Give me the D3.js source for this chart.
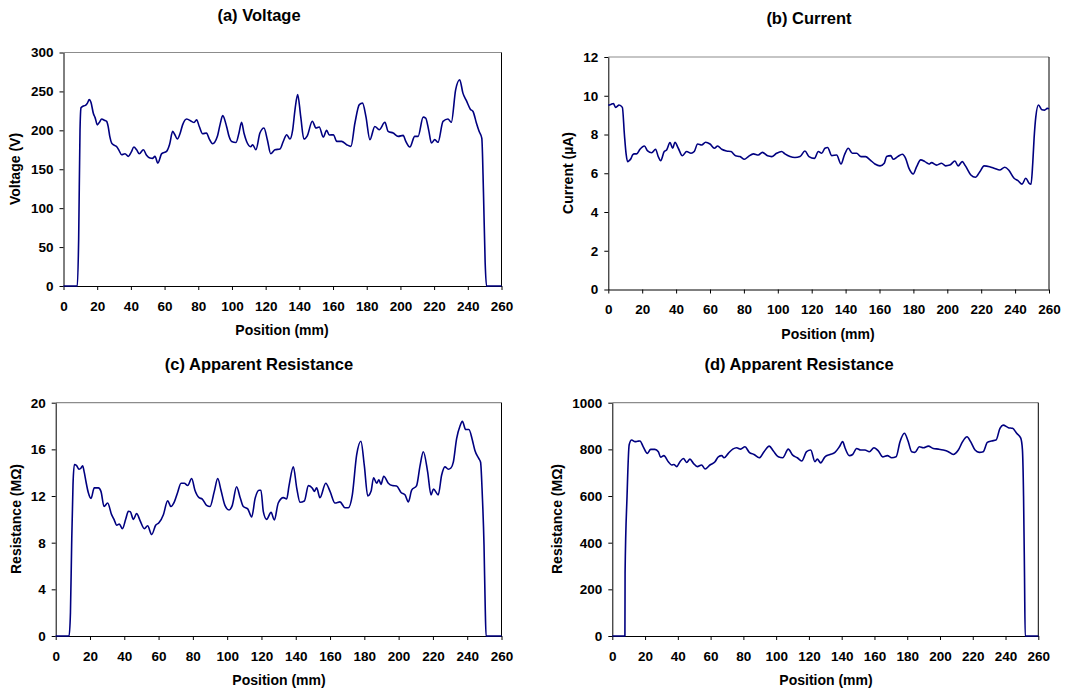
<!DOCTYPE html>
<html>
<head>
<meta charset="utf-8">
<script src="https://cdn.jsdelivr.net/npm/d3@7"></script>
<style>
  body { margin: 0; background: #fff; }
  svg { font-family: "Liberation Sans", Arial, sans-serif; font-weight: bold; }
  .tick text { font-size: 13.5px; fill: #000; }
  .domain, .tick line { stroke: #000; }
</style>
</head>
<body>
<script>
// position (mm) vs value
var voltage = [[0,0],[8.2,0],[9,60],[9.8,200],[10.4,229],[11.5,231],[13,232],[14.2,235],[15.3,239.5],[16.3,236],[17.7,222],[18.8,216],[20.1,207],[21.2,210],[22.7,214.6],[24.2,213],[25.6,211.5],[26.5,205],[27.5,192],[28.6,183.7],[30,181],[31.6,179],[33,174],[34.5,168.7],[36.5,170],[38.5,166.5],[40.2,172],[41.8,178.5],[43.4,175],[45,170],[47.4,175],[49.3,168],[51.3,164.4],[52.8,164],[54.3,166.5],[56,158],[58.3,170],[61.2,173],[63,182],[64.8,198.7],[66.2,194],[67.6,188.8],[69.2,196],[70.7,207],[73.1,214.6],[76,211.5],[77.5,210],[79,213.6],[80.6,205],[82.6,195.7],[84.9,196.5],[86.5,189],[88.5,182.8],[91.3,192],[93,208],[94.5,218.9],[96.8,205],[98.3,192],[99.8,185.7],[102.4,184.4],[104.2,197],[105.7,210.3],[107.2,196],[108.7,185.7],[111.1,179],[112.3,181.4],[114.2,175],[116.6,196.5],[119,203],[121,188],[123,170],[125.5,175],[128.5,176],[130.5,186],[132.5,194.4],[134.4,188.8],[136,200],[137.5,228],[139,245.9],[140.8,218],[142.7,188.8],[144.7,193],[147.7,211.6],[149.9,203],[151.8,204.3],[154.2,191.4],[156.2,200],[157.8,194],[160.2,194.4],[162.2,185.8],[165.1,185.8],[168.1,181.5],[170.6,179.4],[173,209.4],[175.6,233],[177.5,235],[179.5,218],[181.9,188],[184.8,205],[187.4,200.8],[190.8,210.3],[192.7,198.7],[195.7,196.5],[198.7,192.3],[201.6,193.5],[203.2,185.8],[205.6,178.5],[208.5,192.3],[210.5,192.3],[213.5,217],[215,215.8],[216.8,200],[218.4,183.7],[220.4,188],[222.3,184.6],[225.3,211.6],[228.2,214.6],[230.2,210.3],[232.8,252.3],[235.2,265],[237.1,247.8],[239.1,238.4],[241.5,227.2],[243.1,224.2],[245.1,209.4],[246.7,198.7],[248.3,190],[249.3,120],[250.3,30],[251.1,0],[260,0]];

var current = [[0,9.5],[0.4,9.52],[1.5,9.55],[3,9.6],[4.3,9.4],[5.2,9.45],[6.3,9.52],[8.3,9.4],[9.5,8.0],[10.5,7.0],[11.4,6.6],[12.3,6.65],[13.4,6.76],[14.4,6.95],[15.4,7.0],[16.7,7.0],[18.7,7.24],[20,7.35],[21.3,7.41],[23.2,7.15],[25.6,7.06],[27.9,7.24],[29.5,6.85],[30.9,6.65],[33,7.12],[34.4,7.2],[36.4,7.58],[38,7.29],[39.3,7.6],[41.3,7.29],[43.7,6.9],[46.2,7.12],[48.8,7.03],[50.7,7.12],[52.7,7.51],[55.1,7.46],[57.4,7.6],[60,7.51],[62.6,7.29],[64.5,7.41],[66.9,7.24],[69.8,7.15],[72.4,7.12],[75.1,6.9],[77.7,6.86],[80.3,6.72],[82.6,6.86],[85.6,7.0],[88.5,6.94],[90.9,7.08],[94,6.9],[96.4,6.86],[99.3,7.03],[102.3,7.12],[104.2,7.0],[107.2,6.86],[110.1,6.81],[113.1,6.86],[116,7.15],[118.4,6.86],[121.6,6.77],[123.9,7.12],[125.9,7.03],[127.8,7.29],[129.4,7.33],[131.8,6.91],[134.7,6.94],[137.3,6.48],[139.3,6.94],[141.6,7.29],[144,7.03],[146.5,7.03],[149.1,6.86],[151.8,6.86],[154.4,6.69],[157.3,6.48],[160.3,6.38],[162.8,6.52],[164.2,6.86],[166.6,6.91],[168.1,6.72],[170.7,6.86],[173.5,6.98],[175.4,6.77],[177.4,6.25],[179.9,5.96],[181.9,6.34],[184.3,6.69],[186.8,6.6],[189.2,6.48],[190.7,6.55],[193.7,6.42],[196.6,6.52],[199,6.38],[201.5,6.42],[204.5,6.63],[206.4,6.38],[208.8,6.6],[210.7,6.38],[213.9,5.91],[216.6,5.79],[219.2,6.08],[221.7,6.38],[225,6.34],[228,6.25],[230.9,6.17],[233.9,6.31],[236.2,6.17],[239.4,5.74],[241.7,5.62],[244.1,5.44],[246.3,5.74],[248.3,5.48],[249.4,5.44],[250.4,6.5],[251.2,7.8],[252.2,8.9],[253.8,9.52],[255.8,9.28],[257.4,9.26],[259,9.35],[260,9.33]];

var resistanceC = [[0,0],[7.8,0],[8.6,2],[9.3,7.8],[10.1,13],[10.9,14.7],[12.2,14.6],[13.6,14.3],[14.8,14.4],[15.7,14.6],[16.7,14],[17.7,13.2],[19,12.3],[20.6,11.8],[22.5,12.7],[24.9,12.7],[26.4,12.4],[28.2,11.1],[30.3,11.4],[32.6,10.4],[34,10],[35.6,9.5],[37.1,9.6],[38.9,9.2],[40.8,10],[42.4,10.7],[43.5,10.66],[45.3,10.0],[47.2,10.5],[49.2,9.9],[51.7,9.2],[53.6,9.45],[56,8.7],[58.3,9.5],[60.2,9.7],[62.8,10.4],[65.3,11.6],[67.2,11.1],[69.2,11.5],[71.1,12.3],[73.1,13.1],[75,13.1],[77,12.9],[79.3,13.5],[81.2,12.5],[83.6,11.86],[85.5,11.74],[88,11.2],[90,11.1],[92.5,12.4],[94.5,13.5],[96.4,12.5],[98.7,11.2],[101.1,10.8],[103,11.2],[105.5,12.8],[107.5,11.9],[109.4,11.1],[112,10.9],[114.3,10.2],[116.3,11.8],[118.6,12.5],[119.7,12.5],[121.1,10.66],[123,10.0],[125.6,10.6],[127.5,9.95],[129.8,11.4],[132.8,11.86],[134.7,11.75],[136.1,12.89],[138.6,14.5],[140.6,12.66],[142.5,11.46],[145,11.57],[147.4,12.89],[149.7,12.66],[150.8,12.4],[152.2,12.7],[154.1,11.86],[157.5,13.1],[160,12.4],[162.9,11.4],[165.8,11.5],[168.7,11.0],[170.7,11.0],[173,12.1],[175.5,15.5],[178,16.7],[180,14.6],[182,12.0],[183.9,12.4],[185.4,13.57],[187.2,13.1],[188.5,13.4],[189.7,13.0],[191.3,13.7],[194,13.1],[196.3,12.9],[198.8,12.86],[201.4,12.3],[203.7,12.1],[205.7,11.5],[207.6,12.5],[210.5,12.9],[212.5,14.6],[214.4,15.8],[216.9,14.1],[218.9,12.1],[220.3,12.6],[223.1,12.1],[225.1,13.8],[227,14.5],[229,14.3],[230.5,14.4],[231.9,14.9],[233.8,16.9],[235.8,18.0],[237.2,18.4],[239.1,17.7],[241,17.7],[243,16.8],[244.5,15.9],[246.8,15.2],[247.8,14.9],[248.8,12.1],[249.8,7.8],[250.5,2.5],[251,0],[260,0]];

var resistanceD = [[0,0],[7.7,0],[7.8,270],[9,600],[10.3,820],[11.8,840],[13.9,833],[15.5,835],[16.9,836],[18.9,811],[21.4,783],[23.4,800],[26,800],[28.1,790],[29.5,766],[31.5,773],[34.2,747],[36.2,733],[37.6,735],[39.3,726],[41.3,747],[43.4,761],[45.4,744],[47.4,758],[49.5,740],[51.9,726],[54.5,733],[56.6,716],[59.6,733],[62.7,747],[64.7,768],[66.8,773],[68.2,764],[70.8,783],[73.5,801],[75.9,807],[78.3,801],[81,811],[83.6,787],[86.5,778],[89.7,764],[92.6,790],[95.8,814],[98.3,793],[101.3,768],[104,764],[107.4,801],[110.1,775],[112.9,764],[115.6,750],[118.6,790],[121.1,797],[123.7,747],[125.1,758],[127.2,742],[129.8,768],[132.9,778],[135.9,787],[138.6,811],[140.6,833],[142,807],[144.7,773],[146.7,778],[149.1,804],[151.6,797],[154.2,797],[156.9,790],[159.7,807],[162.4,793],[165,768],[167.9,773],[170.5,764],[173.2,768],[175.6,833],[178.3,869],[180.5,836],[182.7,790],[184.7,787],[187.4,811],[189.8,807],[192.9,814],[195.9,804],[199,801],[202,797],[205.1,790],[208.1,778],[211.2,797],[213.8,833],[216.5,854],[218.7,833],[221.4,797],[224,787],[226.4,790],[228.9,830],[231.5,836],[234.2,840],[236.6,890],[238.5,904],[241.7,893],[244.3,890],[246.8,869],[249.3,848],[250.3,800],[251,600],[251.6,250],[252,0],[260,0]];

var xTicks = d3.range(0, 261, 20);
var voltageTicks = [0, 50, 100, 150, 200, 250, 300];
var currentTicks = [0, 2, 4, 6, 8, 10, 12];
var resCTicks = [0, 4, 8, 12, 16, 20];
var resDTicks = [0, 200, 400, 600, 800, 1000];

var width = 1068, height = 692;

var svg = d3.select("body").append("svg")
  .attr("width", width)
  .attr("height", height);

var panels = [
  {title: "(a) Voltage", ytitle: "Voltage (V)", data: voltage, ticks: voltageTicks,
   box: [63.5, 52.5, 501.5, 286], tx: 259, ty: 20.5, xt: 282, xty: 335, yt: 20, yty: 169},
  {title: "(b) Current", ytitle: "Current (\u00b5A)", data: current, ticks: currentTicks,
   box: [608.3, 57, 1049, 289.5], tx: 809, ty: 24, xt: 828, xty: 339, yt: 573, yty: 173},
  {title: "(c) Apparent Resistance", ytitle: "Resistance (M\u03a9)", data: resistanceC, ticks: resCTicks,
   box: [55.7, 402.7, 501.5, 636], tx: 259, ty: 370, xt: 279, xty: 685, yt: 20.5, yty: 519},
  {title: "(d) Apparent Resistance", ytitle: "Resistance (M\u03a9)", data: resistanceD, ticks: resDTicks,
   box: [612.3, 402.7, 1038.3, 636], tx: 799, ty: 370, xt: 826, xty: 685, yt: 562, yty: 519}
];

panels.forEach(function(p) {
  var l = p.box[0], t = p.box[1], r = p.box[2], b = p.box[3];
  var x = d3.scaleLinear().domain([0, 260]).range([l, r]);
  var y = d3.scaleLinear().domain([0, d3.max(p.ticks)]).range([b, t]);
  var g = svg.append("g");

  // plot frame: grey top, black right
  g.append("line").attr("x1", l).attr("x2", r).attr("y1", t).attr("y2", t)
    .attr("stroke", "#8c8c8c").attr("stroke-width", 1.2);
  g.append("line").attr("x1", r).attr("x2", r).attr("y1", t).attr("y2", b)
    .attr("stroke", "#000").attr("stroke-width", 1);

  g.append("g").attr("transform", "translate(0," + b + ")")
    .call(d3.axisBottom(x).tickValues(xTicks).tickSize(4).tickSizeOuter(0).tickPadding(11).tickFormat(d3.format("d")));
  g.append("g").attr("transform", "translate(" + l + ",0)")
    .call(d3.axisLeft(y).tickValues(p.ticks).tickSize(4).tickSizeOuter(0).tickPadding(6).tickFormat(d3.format("d")));

  var line = d3.line()
    .x(function(d) { return x(d[0]); })
    .y(function(d) { return y(d[1]); })
    .curve(d3.curveMonotoneX);

  g.append("path").datum(p.data)
    .attr("d", line)
    .attr("fill", "none")
    .attr("stroke", "#000080")
    .attr("stroke-width", 1.6)
    .attr("stroke-linejoin", "round");

  g.append("text").attr("x", p.tx).attr("y", p.ty)
    .attr("text-anchor", "middle").attr("font-size", "16.5px").text(p.title);
  g.append("text").attr("x", p.xt).attr("y", p.xty)
    .attr("text-anchor", "middle").attr("font-size", "14px").text("Position (mm)");
  g.append("text").attr("transform", "translate(" + p.yt + "," + p.yty + ") rotate(-90)")
    .attr("text-anchor", "middle").attr("font-size", "14px").text(p.ytitle);
});
</script>
</body>
</html>
